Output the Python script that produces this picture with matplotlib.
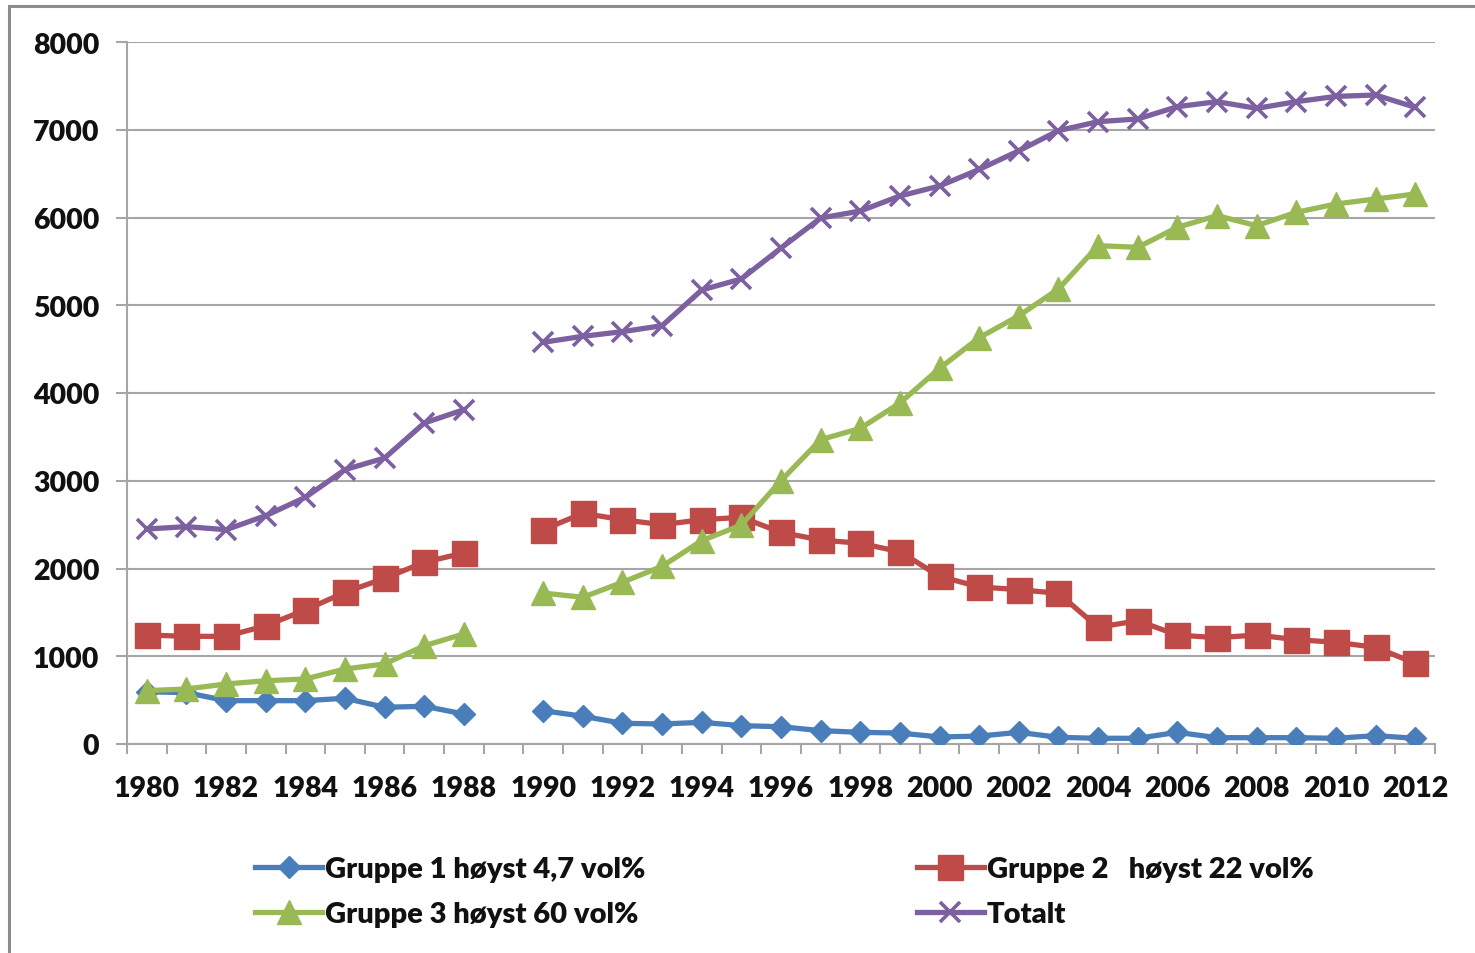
import numpy as np
import matplotlib
matplotlib.use("Agg")
import matplotlib.pyplot as plt
from matplotlib.patches import Rectangle
from matplotlib.ticker import FixedLocator, NullFormatter

plt.rcParams['font.family'] = ['Lato', 'DejaVu Sans']
WEIGHT = 800
plt.rcParams['font.weight'] = WEIGHT

years = list(range(1980, 2013))
nan = np.nan

gruppe1 = [596, 585, 494, 494, 494, 521, 418, 430, 342, nan,
           380, 316, 236, 228, 247, 209, 197, 152, 133, 125,
           80, 90, 133, 76, 65, 65, 133, 72, 72, 72,
           65, 95, 65]
gruppe2 = [1242, 1227, 1227, 1348, 1527, 1729, 1888, 2071, 2177, nan,
           2442, 2629, 2556, 2499, 2556, 2583, 2412, 2325, 2287, 2191,
           1911, 1790, 1759, 1717, 1330, 1405, 1242, 1211, 1242, 1189,
           1159, 1102, 920]
gruppe3 = [608, 627, 684, 721, 741, 855, 912, 1120, 1254, nan,
           1720, 1672, 1843, 2025, 2317, 2496, 3001, 3468, 3597, 3886,
           4281, 4630, 4880, 5185, 5679, 5660, 5888, 6021, 5907, 6059,
           6154, 6211, 6268]
totalt = [2450, 2477, 2442, 2602, 2811, 3127, 3259, 3658, 3810, nan,
          4578, 4646, 4699, 4767, 5174, 5300, 5652, 5994, 6074, 6245,
          6359, 6548, 6760, 6990, 7092, 7123, 7263, 7320, 7244, 7320,
          7380, 7396, 7256]

labels = ["Gruppe 1 høyst 4,7 vol%", "Gruppe 2   høyst 22 vol%",
          "Gruppe 3 høyst 60 vol%", "Totalt"]
yticks = [0, 1000, 2000, 3000, 4000, 5000, 6000, 7000, 8000]

W, H = 1475, 954
FS = 20.5
FS_LEG = 21
fig = plt.figure(figsize=(W / 100, H / 100), dpi=100)
fig.patch.set_facecolor('white')

# outer chart frame (cropped at right and bottom)
fig.add_artist(Rectangle((9 / W, -0.1), 1.2, 1 - 7 / H + 0.1,
                         transform=fig.transFigure, fill=False,
                         edgecolor='#8c8c8c', linewidth=2.2))

L, R, T, B = 127, 1435, 43, 745
ax = fig.add_axes([L / W, 1 - B / H, (R - L) / W, (B - T) / H])

x = np.arange(len(years))
c1, c2, c3, c4 = '#4A7EBB', '#BE4B48', '#98B954', '#7D60A0'
LW = 3.8

l1, = ax.plot(x, gruppe1, color=c1, lw=LW, marker='D', ms=11,
              mec=c1, mfc=c1, zorder=3)
l2, = ax.plot(x, gruppe2, color=c2, lw=LW, marker='s', ms=18,
              mec=c2, mfc=c2, zorder=3)
l3, = ax.plot(x, gruppe3, color=c3, lw=LW, marker='^', ms=17,
              mec=c3, mfc=c3, zorder=3)
l4, = ax.plot(x, totalt, color=c4, lw=LW, marker='x', ms=15, mew=2.6,
              mec=c4, zorder=3)

ax.set_xlim(-0.5, len(years) - 0.5)
ax.set_ylim(0, 8000)

grid_col = '#A6A6A6'
ax.set_yticks(yticks)
ax.set_yticklabels([str(v) for v in yticks], fontweight=WEIGHT)
ax.yaxis.grid(True, color=grid_col, lw=1.5)
ax.set_axisbelow(True)

major_x = [i for i, yv in enumerate(years) if yv % 2 == 0]
ax.set_xticks(major_x)
ax.set_xticklabels([str(years[i]) for i in major_x], fontweight=WEIGHT)
ax.xaxis.set_minor_locator(FixedLocator(np.arange(-0.5, len(years), 1.0)))
ax.xaxis.set_minor_formatter(NullFormatter())

ax.tick_params(axis='x', which='major', length=0, pad=22, labelsize=FS,
               labelcolor='#111111')
ax.tick_params(axis='x', which='minor', length=7.5, width=1.5,
               color=grid_col, direction='out')
ax.tick_params(axis='y', length=8, width=1.5, color=grid_col, pad=12,
               labelsize=FS, labelcolor='#111111')

for s in ['top', 'right']:
    ax.spines[s].set_visible(False)
for s in ['left', 'bottom']:
    ax.spines[s].set_color(grid_col)
    ax.spines[s].set_linewidth(1.5)

# row-wise legend order: (G1, G2) on first row, (G3, Totalt) on second
handles = [l1, l3, l2, l4]
leg_labels = [labels[0], labels[2], labels[1], labels[3]]
leg = fig.legend(handles, leg_labels, ncol=2, loc='upper left',
                 bbox_to_anchor=(255 / W, 1 - 857 / H), frameon=False,
                 prop={'family': ['Lato', 'DejaVu Sans'], 'weight': WEIGHT,
                       'size': FS_LEG},
                 numpoints=1, handlelength=2.3,
                 handletextpad=0.1, columnspacing=9.3, labelspacing=0.66,
                 borderpad=0, borderaxespad=0)
for t in leg.get_texts():
    t.set_color('#111111')

fig.savefig('out.png', dpi=100, facecolor='white')
